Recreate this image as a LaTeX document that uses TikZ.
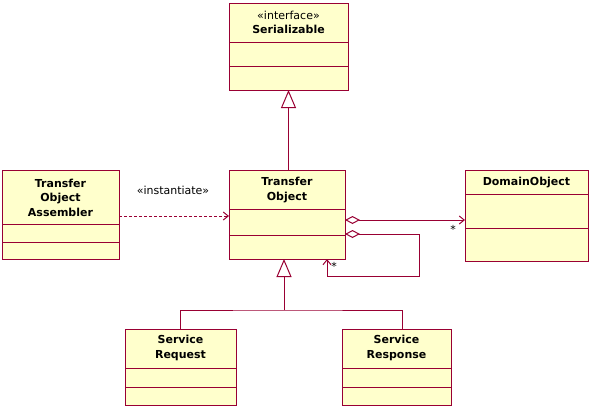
\documentclass[tikz,border=0pt]{standalone}
\usepackage{fontspec}
\setmainfont{DejaVu Sans}
\usetikzlibrary{arrows.meta}
\definecolor{umlborder}{HTML}{990033}
\definecolor{umlfill}{HTML}{FFFFCC}
\begin{document}
\begin{tikzpicture}[x=1pt,y=-1pt,
  font=\fontsize{11}{14}\selectfont,
  cls/.style={draw=umlborder, fill=umlfill, line width=1pt, anchor=north west, inner sep=0pt, outer sep=0pt},
  sepline/.style={draw=umlborder, line width=1pt},
  title/.style={align=center, font=\fontsize{11}{14.5}\selectfont\bfseries, inner sep=0pt},
  plain/.style={align=center, font=\fontsize{11}{14}\selectfont, inner sep=0pt},
  conn/.style={draw=umlborder, line width=1pt},
  gen/.style={conn, -{Triangle[open, length=18pt, width=15pt, fill=white]}},
  agg/.style={conn, {Diamond[open, length=15pt, width=8pt, fill=white]}-{Straight Barb[length=5pt, width=8pt]}},
  dep/.style={conn, dashed, dash pattern=on 3pt off 2pt, -{Straight Barb[length=5pt, width=8pt]}}
]
\path[use as bounding box] (0,0) rectangle (591,408);

% Serializable
\node[cls, minimum width=119pt, minimum height=87pt] (ser) at (229,3) {};
\draw[sepline] (229,42) -- (348,42) (229,66) -- (348,66);
\node[plain] (serst) at (288.5,15) {«interface»};
\node[title] (sername) at (288.5,29) {Serializable};

% Transfer Object
\node[cls, minimum width=116pt, minimum height=89pt] (to) at (229,170) {};
\draw[sepline] (229,209) -- (345,209) (229,235) -- (345,235);
\node[title] (toname) at (287,190) {Transfer\\Object};

% Transfer Object Assembler
\node[cls, minimum width=117pt, minimum height=89pt] (toa) at (2,170) {};
\draw[sepline] (2,224) -- (119,224) (2,242) -- (119,242);
\node[title] (toaname) at (60.5,197.5) {Transfer\\Object\\Assembler};

% DomainObject
\node[cls, minimum width=123pt, minimum height=91pt] (do) at (465,170) {};
\draw[sepline] (465,194) -- (588,194) (465,228) -- (588,228);
\node[title] (doname) at (526.5,183) {DomainObject};

% Service Request
\node[cls, minimum width=111pt, minimum height=76pt] (sreq) at (125,329) {};
\draw[sepline] (125,368) -- (236,368) (125,387) -- (236,387);
\node[title] (sreqname) at (180.5,348) {Service\\Request};

% Service Response
\node[cls, minimum width=109pt, minimum height=76pt] (sresp) at (342,329) {};
\draw[sepline] (342,368) -- (451,368) (342,387) -- (451,387);
\node[title] (srespname) at (396.5,348) {Service\\Response};

% generalization TO -> Serializable
\draw[gen] (to.north -| ser.south) -- (ser.south);

% dependency
\draw[dep] (toa.east |- 0,216) -- (to.west |- 0,216);
\node[plain] (inst) at (173,190) {«instantiate»};

% aggregation to DomainObject
\draw[agg] (to.east |- 0,220) -- (do.west |- 0,220);
\node[plain] (star1) at (453,229) {*};

% self aggregation
\coordinate (selfa) at (419,234);
\coordinate (selfb) at (419,276);
\draw[agg] (to.east |- selfa) -- (selfa) -- (selfb) -| ([xshift=40pt]to.south);
\node[plain] (star2) at (334,266) {*};

% generalization services -> TO
\coordinate (join) at (284,310);
\draw[gen] (join) -- (join |- to.south);
\draw[conn] (sreq.north) |- (join) -| ([xshift=5.5pt]sresp.north);
\end{tikzpicture}
\end{document}
